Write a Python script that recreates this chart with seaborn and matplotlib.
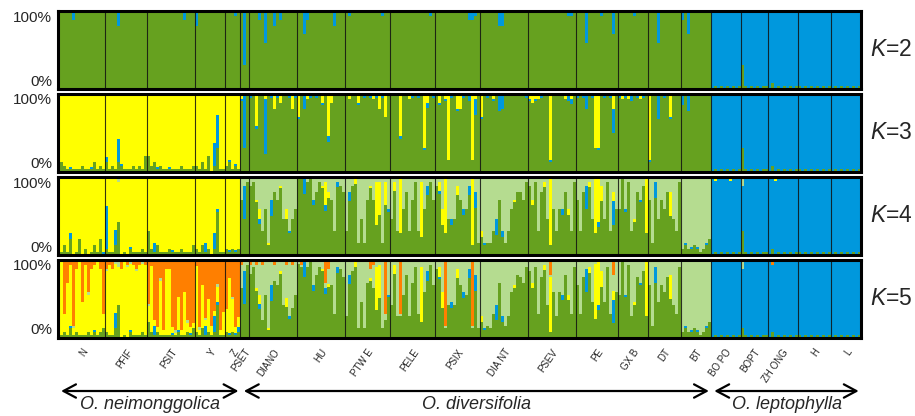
import numpy as np
import pandas as pd
import matplotlib
matplotlib.use("Agg")
import matplotlib.pyplot as plt
import matplotlib.transforms as mtransforms
import seaborn as sns

# populations (left to right) and number of individuals drawn for each
pops = ["N", "PFIF", "PSIT", "Y", "Z", "PSET", "DIANO", "HU", "PTW E", "PELE", "PSIX",
        "DIA NT", "PSEV", "PE", "GX B", "DT", "BT", "BO PO", "BOPT", "ZH ONG", "H", "L"]
pop_sizes = [16, 14, 16, 10, 5, 3, 16, 16, 15, 15, 15, 16, 16, 14, 10, 11, 10, 10, 9, 10, 11, 10]

species = ["O. neimonggolica", "O. diversifolia", "O. leptophylla"]
species_first_pop = [0, 5, 17]

colors = {"green": "#66A11F", "blue": "#0098DD", "yellow": "#FFFF00",
          "lightgreen": "#B5DC90", "orange": "#FF7F00"}

# membership codes, one char per individual,
# one chunk per population; 0-9 -> LEVELS, x = the rest of the bar
LEVELS = [0, 0.03, 0.07, 0.12, 0.2, 0.3, 0.42, 0.55, 0.7, 0.85]

K2_GREEN = ("x x x x x x x x x x x x x x x x x "
            "0101010101 510101011 0201010101 10101010101 0101010101")
K2_BLUE = ("1010130101101010 11014011010110 1010100101013010 4101101101 10121 180 "
           "1013060040301101 1053101010104101 121011010101210 101101011010121 101011010103320 "
           "1010104401010101 1010110101010221 10160101201050 1010121010 10161010110 3051011010 "
           "x x x x x")

K3_GREEN = ("2321111121113121 31213211121214 4231211111121112 2131402511 23121 "
            "x x x x x x x x x x x x "
            "0101010101 510101011 0201010101 10101010101 0101010101")
K3_BLUE = ("0000100000010000 20005100000000 0001000100000000 0000005600 01010 180 "
           "1010180101010101 1040101010201010 101010101010101 010101010101201 010101010102040 "
           "1010104401010101 1010110101010221 10140101010150 1010201010 10150101010 3041010101 "
           "x x x x x")
K3_YELLOW = ("x x x x x 200 "
             "1161021141301141 5102111031730101 020131101214150 101710211108301 131291144101920 "
             "5010211010101011 2322101910102120 10101188010141 1212101210 91010105101 1010101010 "
             "1101101110 111011011 1011101101 11011101101 1101110111")

K4_GREEN = ("2131401402013140 21136010211121 5213111211121113 2131202711 21212 "
            "x x x x x x x x x x x 2322321234 "
            "0101010101 510101011 0201010101 10101010101 0101010101")
K4_BLUE = ("0000200000000001 70040000100000 0030000010000000 0003004100 01010 060 "
           "0002000400000100 0040020002000200 030000000000001 000000000000300 010002000203040 "
           "0100040200000000 0000000000020000 00050002000050 0010000100 00400000000 0101010010 "
           "x x x x x")
K4_YELLOW = ("x x x x x 000 "
             "0013001000103000 0000000015200000 000200001076050 030800000080000 034800030000900 "
             "2000000000010000 0200020900000200 00002087400030 0000010008 00000005000 0 "
             "0100001000 0 0010000100 0 0")
K4_LIGHT = ("1100110001100011 10012001101010 1101010010110101 1010110101 01011 532 "
            "3256869545376876 1112154232458234 843197953522926 728164852826325 326177735663149 "
            "8999875898654452 3528427168664682 58432711372846 6162874531 59275644782 x "
            "1111011111 311111011 1111111011 11110111111 1111111101")

K5_GREEN = ("2121312111212123 21136010211121 4212111111211213 2131212611 21212 "
            "x x x x x x x x x x x 2322321234 "
            "0101010101 310101011 0201010101 10101010101 0101010101")
K5_BLUE = ("0000100000001000 00040000100000 0030000010100010 0003004100 01012 060 "
           "0002000400000100 0040020002000200 030000000000001 000000000000300 010002000203040 "
           "0100040200000000 0000000000020000 00050002000050 0010000100 00400000000 0101010010 "
           "x x x x x")
K5_YELLOW = ("x x 4922829921627322 9272632425 58623 000 "
             "0013001000103000 0000000010100000 000200001076000 030000000080000 034000030000000 "
             "2000000000010000 0200020800000200 00002087400030 0000010008 00000005000 0 "
             "0 0 0 0 0")
K5_LIGHT = ("1000010000100000 10012001101010 1000100001000100 0101000100 00100 532 "
            "3256869545376876 1112154232458234 843197953522926 728164852826325 326177735663149 "
            "8999875898654452 3528427168664682 58432711372846 6162874531 59275644782 x "
            "1010101010 301010101 1010101010 10101010101 1010101010")
K5_ORANGE = ("2185293172632138 32311312123212 x x x 210 "
             "2121211121112121 1201010105310101 101010103210181 101810101010101 010910101010901 "
             "1101010101010101 1010101401010101 10101010101040 1010101010 10101010101 0101010101 "
             "0 0 0200000000 0 0")

panels = [
    ("2", {"green": K2_GREEN, "blue": K2_BLUE}),
    ("3", {"green": K3_GREEN, "blue": K3_BLUE, "yellow": K3_YELLOW}),
    ("4", {"green": K4_GREEN, "blue": K4_BLUE, "yellow": K4_YELLOW, "lightgreen": K4_LIGHT}),
    ("5", {"green": K5_GREEN, "blue": K5_BLUE, "yellow": K5_YELLOW, "lightgreen": K5_LIGHT,
           "orange": K5_ORANGE}),
]


def expand(code):
    chunks = code.split()
    assert len(chunks) == len(pop_sizes)
    out = []
    for chunk, n in zip(chunks, pop_sizes):
        if len(chunk) == 1:
            chunk = chunk * n
        assert len(chunk) == n, (chunk, n)
        out.extend(np.nan if c == "x" else LEVELS[int(c)] for c in chunk)
    return np.array(out)


def panel_frame(layers):
    names = list(layers)
    q = np.vstack([expand(layers[k]) for k in names])
    rest = 1 - np.nansum(q, axis=0)
    q = np.where(np.isnan(q), rest, q)
    rows = []
    for name, vals in zip(names, q):
        rows.append(pd.DataFrame({"ind": np.arange(len(vals)), "cluster": name, "frac": vals}))
    return pd.concat(rows, ignore_index=True), names


n_ind = sum(pop_sizes)
bounds = np.cumsum([0] + pop_sizes) - 0.5
centers = (bounds[:-1] + bounds[1:]) / 2

sns.set_style("white")
plt.rcParams["font.family"] = ["Liberation Sans", "DejaVu Sans"]
plt.rcParams["mathtext.fontset"] = "custom"
plt.rcParams["mathtext.rm"] = "Liberation Sans"
plt.rcParams["mathtext.it"] = "Liberation Sans:italic"

fig = plt.figure(figsize=(9.15, 4.16), dpi=100)
W, H = 915, 416
left, right = 57.5, 860.5
tops = [10.5, 93.5, 176.5, 259.5]
ph = 78

axes = []
for (k, layers), top in zip(panels, tops):
    ax = fig.add_axes([left / W, 1 - (top + ph) / H, (right - left) / W, ph / H])
    df, names = panel_frame(layers)
    # hue order is top-of-stack first
    sns.histplot(data=df, x="ind", weights="frac", hue="cluster",
                 hue_order=names[::-1], palette=colors, multiple="stack",
                 discrete=True, shrink=1, alpha=1, linewidth=0,
                 antialiased=False, legend=False, ax=ax)
    for b in bounds[1:-1]:
        ax.axvline(b, color="#111111", lw=0.8, alpha=0.85)
    ax.set_xlim(-0.5, n_ind - 0.5)
    ax.set_ylim(0, 1)
    ax.set_xlabel("")
    ax.set_ylabel("")
    ax.set_yticks([0, 1])
    ax.set_yticklabels(["0%", "100%"], fontsize=11)
    ax.get_yticklabels()[0].set_va("bottom")
    ax.get_yticklabels()[1].set_va("top")
    ax.tick_params(axis="y", length=0, pad=4)
    ax.set_xticks([])
    for s in ax.spines.values():
        s.set_visible(True)
        s.set_linewidth(2.2)
        s.set_color("black")
    ax.text(1.012, 0.5, r"$\mathit{K}$=" + k, transform=ax.transAxes,
            fontsize=16.5, va="center", ha="left")
    axes.append(ax)

ax = axes[-1]
ax.set_xticks(centers)
ax.set_xticklabels(pops, fontsize=7, rotation=55, ha="right", va="center",
                   rotation_mode="anchor")
ax.tick_params(axis="x", length=0, pad=9)
shift = mtransforms.ScaledTranslation(4 / 100, 0, fig.dpi_scale_trans)
for lab in ax.get_xticklabels():
    lab.set_transform(lab.get_transform() + shift)

trans = mtransforms.blended_transform_factory(ax.transData, ax.transAxes)
sp_edges = [bounds[i] for i in species_first_pop] + [bounds[-1]]
for i, name in enumerate(species):
    x0, x1 = sp_edges[i] + 1.2, sp_edges[i + 1] - 0.6
    ax.annotate("", xy=(x1, -0.686), xytext=(x0, -0.686), xycoords=trans, textcoords=trans,
                arrowprops=dict(arrowstyle="<->,head_length=0.6,head_width=0.32",
                                lw=1.6, color="black", mutation_scale=15,
                                shrinkA=0, shrinkB=0),
                annotation_clip=False)
    ax.text((sp_edges[i] + sp_edges[i + 1]) / 2 + 0.5, -0.865, name, transform=trans,
            fontsize=13, style="italic", ha="center", va="center")

fig.savefig("out.png", dpi=100)
